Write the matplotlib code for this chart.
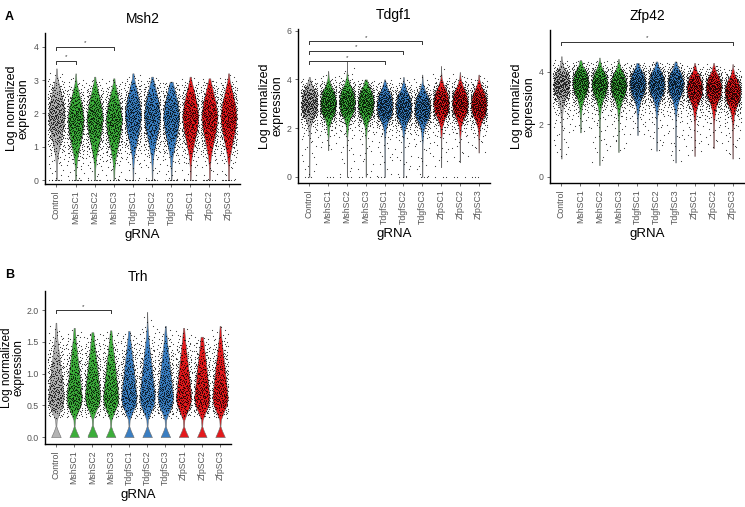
import matplotlib
matplotlib.use("Agg")
import matplotlib.pyplot as plt
import numpy as np

plt.rcParams['font.family'] = ['Liberation Sans', 'DejaVu Sans']

groups = ['Control', 'MshSC1', 'MshSC2', 'MshSC3', 'TdgfSC1', 'TdgfSC2',
          'TdgfSC3', 'ZfpSC1', 'ZfpSC2', 'ZfpSC3']
group_colors = ['#b3b3b3', '#3cad3a', '#3cad3a', '#3cad3a', '#3a7ec2',
                '#3a7ec2', '#3a7ec2', '#e3191c', '#e3191c', '#e3191c']

# violin shape per gene: width relative to the peak, at offsets from the mode
msh2_prof_dy = [-2.0, -1.5, -1.2, -0.8, -0.4, 0.0, 0.4, 0.8, 1.1, 1.4]
msh2_prof_w = [0.03, 0.07, 0.17, 0.48, 0.82, 1.0, 0.8, 0.42, 0.13, 0.02]
msh2_mode = [1.95, 1.8, 1.85, 1.8, 1.95, 1.95, 1.9, 1.9, 1.9, 1.9]
msh2_lo = [0, 0, 0, 0, 0, 0, 0, 0, 0, 0]
msh2_hi = [3.35, 3.2, 3.1, 3.05, 3.2, 3.1, 2.95, 3.1, 3.05, 3.2]

tdgf1_prof_dy = [-3.0, -1.5, -1.0, -0.7, -0.4, 0.0, 0.4, 0.7, 1.0, 1.3]
tdgf1_prof_w = [0.02, 0.04, 0.14, 0.4, 0.85, 1.0, 0.78, 0.35, 0.08, 0.02]
tdgf1_mode = [3.05, 3.05, 3.1, 3.05, 2.95, 2.9, 2.85, 3.05, 3.05, 3.0]
tdgf1_lo = [0, 1.1, 0, 0, 0, 0, 0, 0.4, 0.6, 1.0]
tdgf1_hi = [4.1, 4.35, 4.75, 4.0, 4.0, 4.1, 4.2, 4.55, 4.3, 4.2]

zfp42_prof_dy = [-3.0, -1.5, -1.0, -0.7, -0.35, 0.0, 0.35, 0.6, 0.9]
zfp42_prof_w = [0.02, 0.05, 0.15, 0.38, 0.85, 1.0, 0.7, 0.25, 0.03]
zfp42_mode = [3.6, 3.65, 3.6, 3.55, 3.6, 3.6, 3.6, 3.45, 3.45, 3.3]
zfp42_lo = [0.7, 1.7, 0.45, 0.95, 1.6, 1.0, 0.55, 0.8, 1.1, 0.7]
zfp42_hi = [4.6, 4.45, 4.55, 4.5, 4.35, 4.4, 4.4, 4.35, 4.35, 4.3]

trh_prof_dy = [-0.62, -0.52, -0.45, -0.35, -0.25, -0.12, 0.0, 0.15, 0.3,
               0.5, 0.7, 0.9, 1.1, 1.3]
trh_prof_w = [0.62, 0.25, 0.05, 0.1, 0.4, 0.85, 1.0, 0.88, 0.75, 0.58, 0.38,
              0.2, 0.07, 0.02]
trh_mode = [0.62, 0.62, 0.64, 0.62, 0.62, 0.62, 0.62, 0.62, 0.62, 0.62]
trh_lo = [0, 0, 0, 0, 0, 0, 0, 0, 0, 0]
trh_hi = [1.8, 1.72, 1.65, 1.68, 1.67, 1.97, 1.75, 1.72, 1.58, 1.75]

# significance brackets: (from group, to group, height)
msh2_sig = [(0, 1, 3.58), (0, 3, 4.0)]
tdgf1_sig = [(0, 4, 4.75), (0, 5, 5.18), (0, 6, 5.57)]
zfp42_sig = [(0, 9, 5.16)]
trh_sig = [(0, 3, 2.0)]


def halton(n, base, start):
    out = np.zeros(n)
    for j in range(n):
        f, r, k = 1.0, 0.0, j + start
        while k > 0:
            f /= base
            r += f * (k % base)
            k //= base
        out[j] = r
    return out


def draw_panel(rect, title, prof_dy, prof_w, mode, lo, hi, sig, ylim,
               yticks, yticklabels, n_pts, n_zero, pt_floor, tick_len,
               ylab_off=15, ylab_size=9):
    ax = fig.add_axes(rect)
    half = 0.42
    for i, g in enumerate(groups):
        ys = np.linspace(lo[i], hi[i], 300)
        w = np.interp(ys - mode[i], prof_dy, prof_w)
        w = np.maximum(w, 0.02)
        ax.fill_betweenx(ys, i - half * w, i + half * w,
                         facecolor=group_colors[i], edgecolor='#6b6b6b',
                         lw=0.4, zorder=2)
        # points spread along the violin shape
        dens = w.copy()
        dens[ys < pt_floor] = 0
        cdf = np.cumsum(dens)
        cdf = cdf / cdf[-1]
        p = halton(n_pts, 2, 1 + 37 * i)
        px = (halton(n_pts, 3, 1 + 53 * i) - 0.5) * 0.9
        py = np.interp(p, cdf, ys)
        if n_zero:
            px = np.concatenate([px, (halton(n_zero, 5, 1 + i) - 0.5) * 0.8])
            py = np.concatenate([py, np.zeros(n_zero)])
        ax.scatter(i + px, py, s=0.7, c='black', linewidths=0, alpha=0.8,
                   zorder=3)
    for a, b, h in sig:
        ax.plot([a, a, b, b], [h - tick_len, h, h, h - tick_len],
                color='#333333', lw=0.7, zorder=4)
        ax.text((a + b) / 2, h + tick_len * 0.4, '*', ha='center',
                va='bottom', fontsize=4.5, color='#333333')
    ax.set_xlim(-0.6, 9.6)
    ax.set_ylim(*ylim)
    ax.set_yticks(yticks)
    ax.set_yticklabels(yticklabels)
    ax.set_xticks(range(len(groups)))
    ax.set_xticklabels(groups, rotation=90)
    ax.tick_params(labelsize=6.3, colors='#555555', length=2.5, width=0.6,
                   pad=2)
    for s in ['top', 'right']:
        ax.spines[s].set_visible(False)
    for s in ['left', 'bottom']:
        ax.spines[s].set_linewidth(1.0)
    ax.set_title(title, fontsize=10, pad=7)
    ax.set_xlabel('gRNA', fontsize=9.5, labelpad=3)
    ax.set_ylabel('Log normalized\nexpression', fontsize=ylab_size,
                  linespacing=0.95)
    ax.yaxis.set_label_coords(-ylab_off / (rect[2] * W), 0.5)
    return ax


W, H = 745, 507
fig = plt.figure(figsize=(7.45, 5.07), dpi=100)


def rect(left, right, top, bottom):
    return [left / W, 1 - bottom / H, (right - left) / W, (bottom - top) / H]


draw_panel(rect(45, 240, 33, 184), 'Msh2', msh2_prof_dy, msh2_prof_w,
           msh2_mode, msh2_lo, msh2_hi, msh2_sig, (-0.12, 4.41),
           [0, 1, 2, 3, 4], ['0', '1', '2', '3', '4'], 420, 8, 0.0, 0.1)
draw_panel(rect(298, 490, 29, 183), 'Tdgf1', tdgf1_prof_dy, tdgf1_prof_w,
           tdgf1_mode, tdgf1_lo, tdgf1_hi, tdgf1_sig, (-0.25, 6.07),
           [0, 2, 4, 6], ['0', '2', '4', '6'], 400, 3, 0.0, 0.13)
draw_panel(rect(550, 744, 30, 183), 'Zfp42', zfp42_prof_dy, zfp42_prof_w,
           zfp42_mode, zfp42_lo, zfp42_hi, zfp42_sig, (-0.23, 5.6),
           [0, 2, 4], ['0', '2', '4'], 400, 0, 0.0, 0.13)
draw_panel(rect(45, 231, 291, 444), 'Trh', trh_prof_dy, trh_prof_w,
           trh_mode, trh_lo, trh_hi, trh_sig, (-0.11, 2.3),
           [0, 0.5, 1.0, 1.5, 2.0], ['0.0', '0.5', '1.0', '1.5', '2.0'],
           340, 0, 0.3, 0.05, ylab_off=20, ylab_size=8.5)

fig.text(5 / W, 1 - 17 / H, 'A', fontsize=9, fontweight='bold',
         va='center', ha='left')
fig.text(5 / W, 1 - 275 / H, 'B', fontsize=9, fontweight='bold',
         va='center', ha='left')

fig.savefig('out.png', dpi=100)
